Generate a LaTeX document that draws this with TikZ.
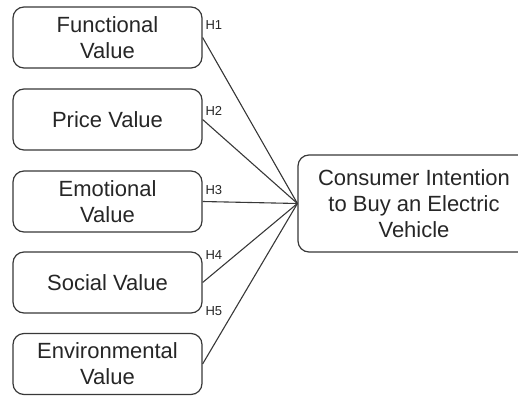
\documentclass[tikz,border=0pt]{standalone}
\usepackage{fontspec}
\setmainfont{Liberation Sans}
\begin{document}
\begin{tikzpicture}[x=1pt,y=-1pt,
  line width=1.2pt,
  construct/.style={draw=black!78, rounded corners=11pt, align=center,
    minimum width=189pt, minimum height=61pt, inner sep=0pt,
    font=\fontsize{22}{26}\selectfont, text=black!85},
  outcome/.style={construct, minimum width=232pt, minimum height=97pt},
  path/.style={draw=black!78, line width=1.1pt},
  hyp/.style={anchor=west, inner sep=0pt, font=\fontsize{13}{15}\selectfont, text=black!85}]
  \useasboundingbox (0,0) rectangle (518,396);

  % predictor constructs
  \node[construct] (fv) at (107.5,37.5) {Functional\\Value};
  \node[construct] (pv) at (107.5,119.5) {Price Value};
  \node[construct] (ev) at (107.5,201.5) {Emotional\\Value};
  \node[construct] (sv) at (107.5,282.5) {Social Value};
  \node[construct] (env) at (107.5,364) {Environmental\\Value};

  % dependent construct
  \node[outcome] (ci) at (414,203.5) {Consumer Intention\\to Buy an Electric\\Vehicle};

  % hypothesised paths
  \draw[path] (fv.east) -- (ci.west);
  \draw[path] (pv.east) -- (ci.west);
  \draw[path] (ev.east) -- (ci.west);
  \draw[path] (sv.east) -- (ci.west);
  \draw[path] (env.east) -- (ci.west);

  % hypothesis labels
  \node[hyp] (h1) at (205,25.5) {H1};
  \node[hyp] (h2) at (205,111) {H2};
  \node[hyp] (h3) at (205,190) {H3};
  \node[hyp] (h4) at (205,255) {H4};
  \node[hyp] (h5) at (205,311) {H5};
\end{tikzpicture}
\end{document}
